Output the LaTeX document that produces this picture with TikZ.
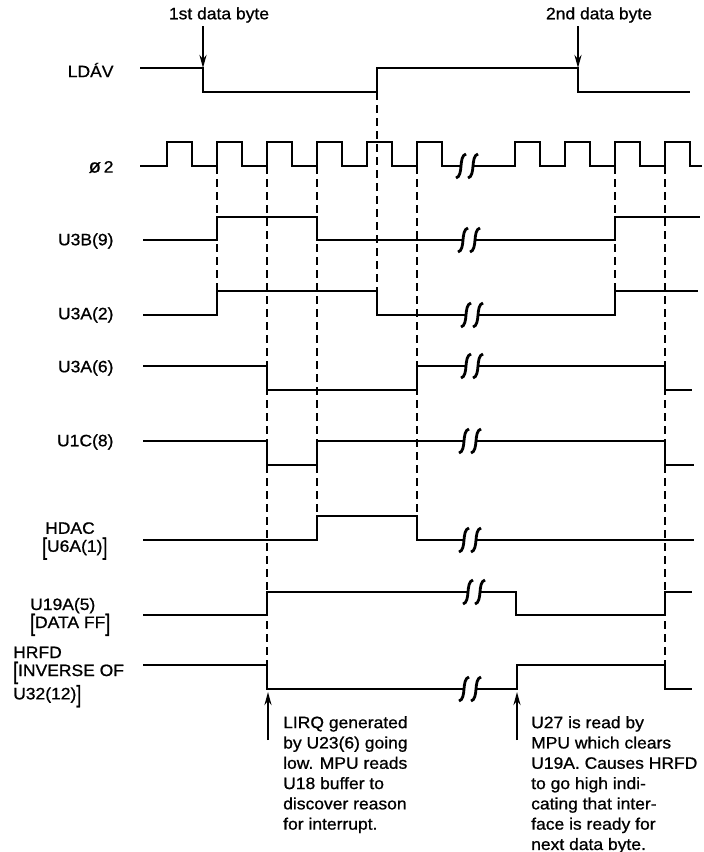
\documentclass[tikz,border=0pt]{standalone}
\usepackage{fontspec}
\setmainfont{Liberation Sans}[FakeStretch=1.06, FakeBold=0.9]
\usetikzlibrary{arrows.meta}

\tikzset{
  wave/.style={line width=2.8pt, line join=miter},
  guide/.style={line width=1.8pt, dash pattern=on 8pt off 5pt},
  pointer/.style={line width=2.2pt, -{Stealth[length=13pt,width=7pt]}},
  sig/.style={anchor=east, font=\fontsize{16.5}{18}\selectfont},
  sigblock/.style={anchor=west, align=left, inner sep=0pt, font=\fontsize{16.5}{18}\selectfont},
  note/.style={anchor=north west, align=left, inner sep=0pt, font=\fontsize{16.5}{20.3}\selectfont}
}

% разрыв линии: две S-образные черты
\newcommand{\squig}[2]{%
  \draw[wave] (#1-5,#2+12) .. controls (#1+3,#2+10) and (#1-3,#2-10) .. (#1+5,#2-12);
  \draw[wave] (#1+7,#2+12) .. controls (#1+15,#2+10) and (#1+9,#2-10) .. (#1+17,#2-12);}
% высокая скобка
\newcommand{\tallbr}[1]{\raisebox{-3pt}{\scalebox{1}[1.45]{#1}}}

\begin{document}
\begin{tikzpicture}[x=1pt, y=-1pt]
    \useasboundingbox (0,0) rectangle (704,852);

    % Подписи сигналов
    \node[sig] (ldav) at (117,70) {LDÁV};
    \node[sig] (phi) at (117,167) {\scalebox{1.15}{ø}\,2};
    \node[sig] (u3b) at (117,241) {U3B(9)};
    \node[sig] (u3a2) at (117,315) {U3A(2)};
    \node[sig] (u3a6) at (117,368) {U3A(6)};
    \node[sig] (u1c) at (117,442) {U1C(8)};
    \node[sigblock] (hdac) at (42,541) {\hspace{3pt}HDAC\\\tallbr{[}U6A(1)\tallbr{]}};
    \node[sigblock] (u19a) at (30,617) {U19A(5)\\\tallbr{[}DATA FF\tallbr{]}};
    \node[sigblock] (hrfd) at (13,677) {HRFD\\\tallbr{[}INVERSE OF\\U32(12)\tallbr{]}};

    % LDAV
    \coordinate (ldavFall) at (203,68);
    \coordinate (ldavFall2) at (578,68);
    \draw[wave] (140,68) -- (ldavFall) -- (203,92) -- (377,92) -- (377,68) -- (ldavFall2) -- (578,92) -- (690,92);

    % Тактовый сигнал
    \draw[wave] (140,166)
      \foreach \t in {167,217,...,417} { -- (\t,166) -- (\t,142) -- (\t+25,142) -- (\t+25,166) }
      -- (461,166);
    \draw[wave] (473,166)
      \foreach \t in {515,565,...,665} { -- (\t,166) -- (\t,142) -- (\t+25,142) -- (\t+25,166) }
      -- (702,166);
    \squig{461}{166}

    % U3B(9)
    \draw[wave] (143,240) -- (217,240) -- (217,217) -- (317,217) -- (317,240) -- (463,240);
    \draw[wave] (475,240) -- (615,240) -- (615,217) -- (700,217);
    \squig{463}{240}

    % U3A(2)
    \draw[wave] (143,315) -- (217,315) -- (217,291) -- (377,291) -- (377,315) -- (466,315);
    \draw[wave] (478,315) -- (615,315) -- (615,291) -- (698,291);
    \squig{466}{315}

    % U3A(6)
    \draw[wave] (143,366) -- (267,366) -- (267,390) -- (417,390) -- (417,366) -- (466,366);
    \draw[wave] (478,366) -- (665,366) -- (665,390) -- (692,390);
    \squig{466}{366}

    % U1C(8)
    \draw[wave] (143,441) -- (267,441) -- (267,465) -- (317,465) -- (317,441) -- (464,441);
    \draw[wave] (476,441) -- (665,441) -- (665,465) -- (694,465);
    \squig{464}{441}

    % HDAC
    \draw[wave] (143,540) -- (317,540) -- (317,516) -- (417,516) -- (417,540) -- (464,540);
    \draw[wave] (476,540) -- (694,540);
    \squig{464}{540}

    % U19A(5)
    \draw[wave] (143,615) -- (267,615) -- (267,592) -- (468,592);
    \draw[wave] (480,592) -- (516,592) -- (516,615) -- (665,615) -- (665,592) -- (692,592);
    \squig{468}{592}

    % HRFD
    \draw[wave] (143,665) -- (267,665) -- (267,689) -- (464,689);
    \draw[wave] (476,689) -- (517,689) -- (517,665) -- (665,665) -- (665,689) -- (692,689);
    \squig{464}{689}

    % Пунктирные линии
    \draw[guide] (217,166) -- (217,291);
    \draw[guide] (267,166) -- (267,665);
    \draw[guide] (317,166) -- (317,516);
    \draw[guide] (377,92) -- (377,291);
    \draw[guide] (417,166) -- (417,516);
    \draw[guide] (615,166) -- (615,291);
    \draw[guide] (665,166) -- (665,665);

    % Метки байтов данных
    \node[font=\fontsize{16.5}{18}\selectfont] (first) at (219,15) {1st data byte};
    \node[font=\fontsize{16.5}{18}\selectfont] (second) at (599,15) {2nd data byte};
    \draw[pointer] (first.south -| ldavFall) -- (ldavFall);
    \draw[pointer] (second.south -| ldavFall2) -- (ldavFall2);

    % Пояснения внизу
    \coordinate (lirqTail) at (268,740);
    \coordinate (lirqTip) at (268,692);
    \coordinate (readTail) at (517,740);
    \coordinate (readTip) at (517,692);
    \draw[pointer] (lirqTail) -- (lirqTip);
    \draw[pointer] (readTail) -- (readTip);
    \node[note] (lirq) at (283,716) {LIRQ generated\\by U23(6) going\\low. MPU reads\\U18 buffer to\\discover reason\\for interrupt.};
    \node[note] (read) at (531,716) {U27 is read by\\MPU which clears\\U19A. Causes HRFD\\to go high indi-\\cating that inter-\\face is ready for\\next data byte.};
\end{tikzpicture}
\end{document}
